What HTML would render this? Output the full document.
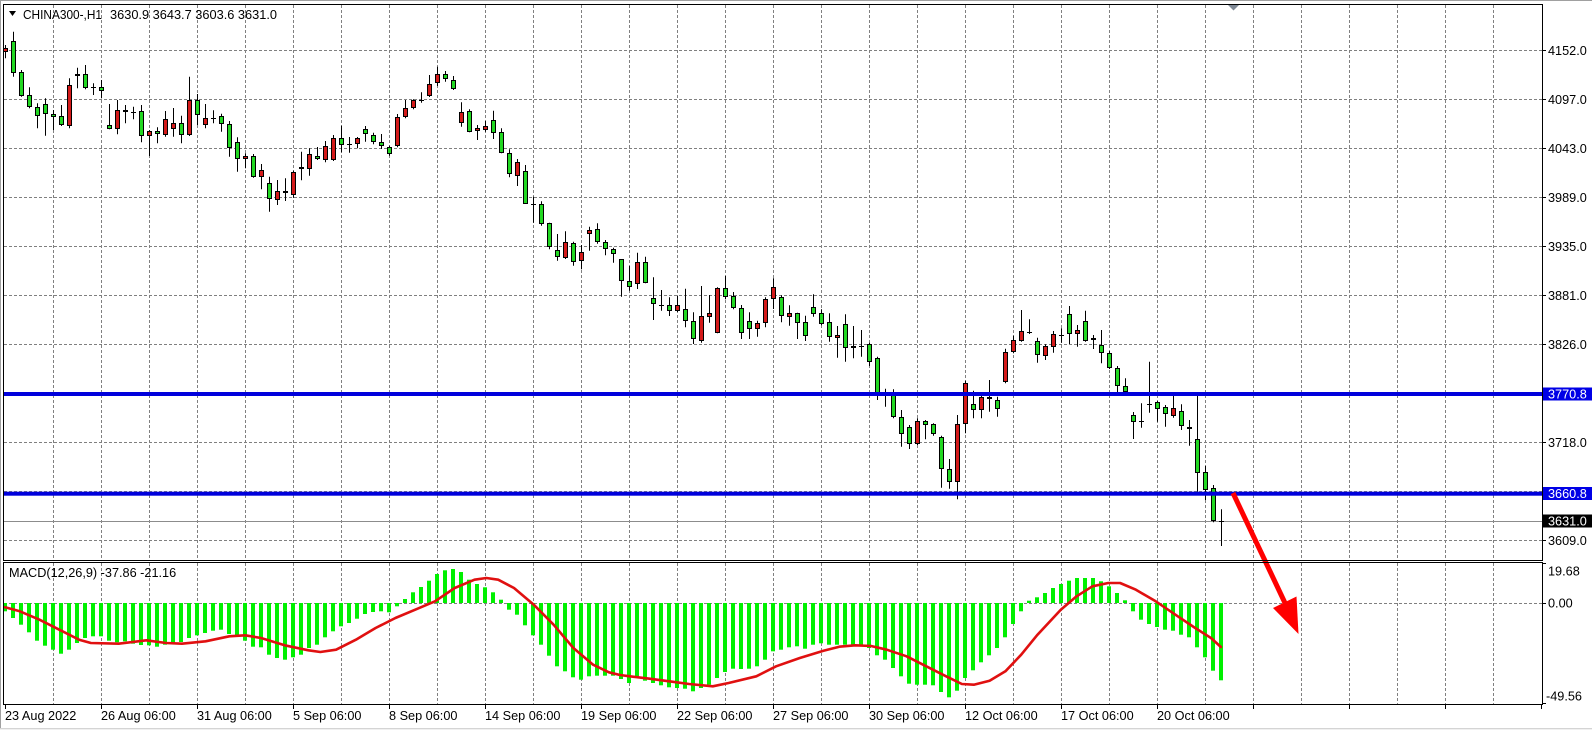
<!DOCTYPE html>
<html>
<head>
<meta charset="utf-8">
<style>
html,body{margin:0;padding:0;background:#fff;}
body{width:1592px;height:730px;overflow:hidden;}
svg{display:block;}
text{font-family:"Liberation Sans",sans-serif;font-size:12.7px;fill:#000;}
</style>
</head>
<body>
<svg width="1592" height="730" viewBox="0 0 1592 730" xmlns="http://www.w3.org/2000/svg">
  <rect x="0" y="0" width="1592" height="730" fill="#fff"/>
  <line x1="0" y1="0.5" x2="1592" y2="0.5" stroke="#a0a0a0"/>
  <line x1="0.5" y1="0" x2="0.5" y2="728" stroke="#a0a0a0"/>
  <rect x="0" y="728" width="1592" height="2" fill="#f0f0f0"/>
  <line x1="0" y1="728.5" x2="1592" y2="728.5" stroke="#d4d4d4"/>

  <g id="grid" stroke="#808080" stroke-width="1" stroke-dasharray="3,2" fill="none"></g>

  <line x1="4" y1="521.5" x2="1542" y2="521.5" stroke="#8c8c8c"/>

  <g id="candles"></g>

  <g id="hist"></g>
  <polyline id="sig" fill="none" stroke="#e01010" stroke-width="2.6" stroke-linejoin="round" stroke-linecap="round"
    points="5.1,607.3 19.8,611.3 39.5,619.7 59.3,629.7 79.1,639.7 90.9,643 118.6,643.7 146.3,640.3 166.1,643 181.9,643.7 205.6,641.3 229.3,636.3 245.2,635.3 261,638 284.7,645.3 308.4,650.3 320.3,652 336.1,649.7 355.9,639.7 375.6,628 395.4,618 415.2,609.7 435,601.3 454.7,588 474.5,579.7 486.4,578 498.2,579.7 514,588 533.8,604.7 553.6,624.7 573.4,648 593.1,664.7 608.9,672.3 620,675 629.8,676.3 649.5,678.7 669.3,681.3 689.1,684 712.8,686.3 728.6,683 756.3,676.3 776.1,666.3 799.8,658 823.5,650.7 839.3,646.7 855.2,645.3 871,646 886.8,649.7 906.6,656.3 926.3,666.3 946.1,676.3 961.9,684 973.8,684.7 989.6,680.7 1005.4,671.3 1021.2,654.7 1037,635.3 1060.8,609.7 1076.6,596.3 1092.4,586.3 1108.2,583 1120.1,583 1135.9,589.7 1155.7,601.3 1175.4,614.7 1195.2,628 1211,638 1220.9,647"/>

  <rect x="4" y="392" width="1538" height="4" fill="#0000dc"/>
  <rect x="4" y="491.7" width="1538" height="4" fill="#0000dc"/>

  <line x1="1233" y1="493" x2="1285" y2="603" stroke="#ff0000" stroke-width="5"/>
  <polygon points="1296.5,596.5 1273,608 1298.5,634" fill="#ff0000"/>

  <polygon points="1227,4 1240,4 1233.5,10.5" fill="#7f8996"/>

  <rect x="3.5" y="4.5" width="1539" height="556" fill="none" stroke="#000"/>
  <rect x="3.5" y="562.5" width="1539" height="142" fill="none" stroke="#000"/>

  <g stroke="#000">
    <line x1="1542" y1="50.5" x2="1546" y2="50.5"/>
    <line x1="1542" y1="99.5" x2="1546" y2="99.5"/>
    <line x1="1542" y1="148.5" x2="1546" y2="148.5"/>
    <line x1="1542" y1="197.5" x2="1546" y2="197.5"/>
    <line x1="1542" y1="246.5" x2="1546" y2="246.5"/>
    <line x1="1542" y1="295.5" x2="1546" y2="295.5"/>
    <line x1="1542" y1="344.5" x2="1546" y2="344.5"/>
    <line x1="1542" y1="442.5" x2="1546" y2="442.5"/>
    <line x1="1542" y1="540.5" x2="1546" y2="540.5"/>
    <line x1="1542" y1="563.5" x2="1546" y2="563.5"/>
    <line x1="1542" y1="603.5" x2="1546" y2="603.5"/>
    <line x1="1542" y1="703.5" x2="1546" y2="703.5"/>
  </g>
  <g id="bticks" stroke="#000"></g>

  <text x="1548" y="55">4152.0</text>
  <text x="1548" y="104">4097.0</text>
  <text x="1548" y="153">4043.0</text>
  <text x="1548" y="202">3989.0</text>
  <text x="1548" y="251">3935.0</text>
  <text x="1548" y="300">3881.0</text>
  <text x="1548" y="349">3826.0</text>
  <text x="1548" y="447">3718.0</text>
  <text x="1548" y="545">3609.0</text>

  <rect x="1543" y="387.5" width="49" height="13" fill="#0000e6"/>
  <text x="1548" y="398.5" style="fill:#fff">3770.8</text>
  <rect x="1543" y="487" width="49" height="13" fill="#0000e6"/>
  <text x="1548" y="498" style="fill:#fff">3660.8</text>
  <rect x="1543" y="514.5" width="49" height="13" fill="#000"/>
  <text x="1548" y="525.5" style="fill:#fff">3631.0</text>

  <text x="1548" y="575.5">19.68</text>
  <text x="1548" y="607.5">0.00</text>
  <text x="1546" y="700.5">-49.56</text>

  <polygon points="9,11 16,11 12.5,16" fill="#000"/>
  <text x="23" y="19" textLength="79" lengthAdjust="spacingAndGlyphs">CHINA300-,H1</text>
  <text x="110" y="19" textLength="167" lengthAdjust="spacingAndGlyphs">3630.9 3643.7 3603.6 3631.0</text>
  <text x="9" y="577">MACD(12,26,9) -37.86 -21.16</text>

  <text x="5" y="720">23 Aug 2022</text>
  <text x="101" y="720">26 Aug 06:00</text>
  <text x="197" y="720">31 Aug 06:00</text>
  <text x="293" y="720">5 Sep 06:00</text>
  <text x="389" y="720">8 Sep 06:00</text>
  <text x="485" y="720">14 Sep 06:00</text>
  <text x="581" y="720">19 Sep 06:00</text>
  <text x="677" y="720">22 Sep 06:00</text>
  <text x="773" y="720">27 Sep 06:00</text>
  <text x="869" y="720">30 Sep 06:00</text>
  <text x="965" y="720">12 Oct 06:00</text>
  <text x="1061" y="720">17 Oct 06:00</text>
  <text x="1157" y="720">20 Oct 06:00</text>
</svg>
<script>
(function(){
var G='#22d822',R='#d41a1a';
var C=[
['r',48.3,52.3,45,58.3],['g',41,73.3,31.7,76.7],['g',72.3,95.7,70,96.7],['g',95.3,107.3,87.3,108.3],['g',107,116.3,103.3,128.3],
['g',104.3,114.3,98.3,135.7],['g',114.3,117.3,110,130],['g',116,125,105,126],['r',85.3,126.3,78.3,128.3],['r',74.3,76.3,67.7,88.3],
['g',74.3,88.3,65,89.3],['d',87.3,87.3,83.3,95],['g',87.3,91,80,98.3],['g',125,129.3,104,129.3],['r',110.3,129.3,100,134.3],
['g',110.3,112.3,105,123.3],['d',112.3,112.3,106.7,119.3],['g',111.3,136.3,105,142.3],['r',131.3,136.3,130,156],['g',131.3,134.3,127.3,143.3],
['r',119.3,135.3,111,136.7],['r',123.3,129.3,108,136.7],['g',123.3,135.3,115.7,143.3],['r',100,135.3,76.7,136],['g',100,115.3,94,125],
['r',118.3,125.3,104,128.3],['d',117.7,117.7,110.3,123.3],['g',116,124.3,113.7,131.7],['g',124,148.3,121,156.7],['g',142,159.3,137.3,171.7],
['r',156,159.3,153.3,168.3],['g',156.3,176.7,154,177.7],['r',170,176.7,164,189.3],['g',183.3,199,176.7,211.7],['r',191,200,180,205],
['g',190.7,193.3,178.3,201],['r',172,195,170.7,197.7],['g',167,169.3,151.7,180.3],['r',154,169.3,148.3,175.7],['g',156,159.3,147,160],
['r',146.3,159.7,141,162.3],['r',138.3,159.7,135,161],['g',138.3,145.3,125.7,152.3],['d',144.3,144.3,137,152.7],['r',138.3,144.3,137,148.3],
['g',129.3,134,126,141.7],['g',135,142.3,132.7,144.3],['g',142.3,146,134,149],['g',146.7,154.3,145.7,155.7],['r',117.3,146,114,147.3],
['r',108.3,117.3,100,118.3],['r',100,108.3,99.3,109.3],['d',100.3,100.3,92.3,102.7],['r',84,96.3,75,97],['r',74.3,83.3,66.7,86],
['g',74.3,79.3,71,81.7],['g',80.3,89.3,76,90],['r',111.7,123.3,102.3,126.7],['g',111,131.7,109.3,132.3],['r',128.3,130.7,125,140],
['r',126.3,129.7,121,131.7],['g',120.3,132.7,110.7,139],['g',132.3,152.7,128.3,153.3],['g',153.3,174.3,149.3,177.3],['r',162.3,175.7,159,186],
['g',171.3,203.7,165,204],['d',203.7,203.7,196.7,222.7],['g',204,224.3,201.3,225.7],['g',223.3,246.7,222.7,249.3],['g',250,257.3,234,260.7],
['r',242.3,258,231.3,259],['g',243,261.7,241.7,265.7],['r',252.3,261.3,245,269.3],['r',230,234.3,226.7,250.7],['g',229.3,241.7,223.3,243.7],
['g',242.3,249.3,240,255.3],['g',249.3,254.3,247.7,262.7],['g',259.3,281.3,259.3,296.7],['g',281,286.7,266,290.7],['r',262.3,284.3,252.7,289],
['g',262.3,282.7,256.7,283.3],['g',298.3,304.3,277.3,320],['d',305.3,305.3,290,310.7],['g',305.3,311.3,297.3,316],['r',305.3,311.3,296,312],
['g',309.3,321.3,288.7,327.3],['g',321.3,339.3,312.3,344],['r',316.3,340.7,286,342.7],['r',313.3,317.3,295,322.7],['r',288.3,332.7,287.3,333.3],
['g',288.3,297.3,276,299.3],['g',296.3,308.3,292,309.3],['g',308,333.3,305,339],['g',321.3,329.3,312.3,339],['r',323.3,329.3,320.7,336.7],
['r',299.3,323.3,297.3,327.3],['r',287.3,299.3,278.3,309],['g',296.7,316,295.3,322.3],['r',313.3,316.7,305.3,325.7],['g',313.3,322.7,312.7,339],
['g',322.3,336,315.7,341],['g',307.3,314,294.3,316.7],['g',313.3,324.3,309.3,325.3],['g',322.3,337.3,313.3,341.7],['r',335,337.7,326,357.7],
['g',324.3,348.3,314.3,361.7],['r',346,348.3,326,358.3],['d',345.7,345.7,330,356.7],['g',344.3,361.7,342.7,366],['g',358.3,393.3,356.7,400],
['d',393.3,393.3,388.7,406.7],['g',394.3,417.3,389.3,418.3],['g',417.3,434.3,410,446.7],['g',427,444.3,425,449],['r',420.7,444.3,418.3,445],
['g',420.7,425,420,439.3],['g',424.3,434.3,423.3,435.7],['g',437.3,469.3,435.7,487.7],['g',469.3,482.3,459,488.7],['r',424.3,482.3,415,499.3],
['r',383.3,424.3,380.7,433.3],['g',404.3,410,390.7,418.3],['r',397.3,410.3,396,418.3],['g',397,399.3,380,411.7],['g',400,409.3,396.7,416.7],
['r',352,382.3,348.7,383.3],['r',340.3,352.3,335.7,353.3],['r',331,340.7,310,341.7],['d',332,332,319.3,334],['g',341,355.3,337.7,362.7],
['r',346.3,355.7,344.3,360],['r',334,347.3,331,352.7],['d',334.7,334.7,328.3,342.7],['g',314,334.3,306,344],['r',330.3,334.3,325,346.7],
['g',321.3,340.7,310.7,341.7],['r',338.3,340.3,335,349],['g',345,353.3,330,363.3],['g',352.7,368.3,351,369],['g',368.3,385.7,366,392.3],
['g',385.7,391.7,378.3,393.3],['g',415.3,421.7,412,439],['d',421.3,421.3,403.3,427.7],['d',404,404,361.7,412.7],['g',402.3,409,401,421.7],
['g',407.3,414.3,405,426.7],['r',408.3,415.7,396,417.7],['g',411.3,426,404.3,430],['g',427,429,420,445.7],['g',439.3,473.3,396,491.7],
['g',472.3,489.7,466,500],['g',487.7,520.7,485,522.3],['d',521,521,509.3,546]
];
var H=[190,210,230,253,278,293,305,317,305,285,270,265,265,278,283,280,287,291,292,296,
290,286,282,270,262,255,248,245,258,262,278,296,298,320,330,335,328,320,300,290,
268,250,235,225,212,198,192,190,193,175,153,133,117,98,78,67,63,72,95,108,
118,133,155,185,200,232,262,290,323,355,370,388,395,385,383,383,383,393,405,385,
398,405,412,418,420,422,430,420,410,390,372,362,363,362,355,335,310,305,298,295,
302,290,286,290,290,290,290,292,300,322,335,360,385,407,410,410,412,432,448,428,
390,367,343,322,300,268,228,190,158,148,135,120,108,98,90,90,90,100,115,135,
157,190,215,228,237,245,248,260,268,298,328,368,397];

var g='';
for(var k=1;k<=31;k++){var x=5.5+48*k;
  g+='<line x1="'+x+'" y1="5" x2="'+x+'" y2="560"/>';
  g+='<line x1="'+x+'" y1="563" x2="'+x+'" y2="704"/>';
}
var hy=[50,99,148,197,246,295,344,393,442,491,540];
for(var j=0;j<hy.length;j++){g+='<line x1="4" y1="'+(hy[j]+.5)+'" x2="1542" y2="'+(hy[j]+.5)+'"/>';}
g+='<line x1="4" y1="603.5" x2="1542" y2="603.5"/>';
document.getElementById('grid').innerHTML=g;

var b='';
for(var k=0;k<=16;k++){var x=5.5+96*k; if(x>1542)break; b+='<line x1="'+x+'" y1="705" x2="'+x+'" y2="709"/>';}
document.getElementById('bticks').innerHTML=b;

var s='';
for(var i=0;i<C.length;i++){var c=C[i],x=5+8*i;
  s+='<line x1="'+(x+.5)+'" y1="'+c[3]+'" x2="'+(x+.5)+'" y2="'+c[4]+'" stroke="#000"/>';
  if(c[0]=='d'){var yy=Math.round(c[1])+.5;
    s+='<line x1="'+(x-2)+'" y1="'+yy+'" x2="'+(x+3)+'" y2="'+yy+'" stroke="#000"/>';
  } else {
    var t=Math.round(c[1]),bb=Math.round(c[2]); if(bb-t<2)bb=t+2;
    s+='<rect x="'+(x-1.5)+'" y="'+(t+.5)+'" width="4" height="'+(bb-t-1)+'" fill="'+(c[0]=='g'?G:R)+'" stroke="#000"/>';
  }
}
document.getElementById('candles').innerHTML=s;

var h='';
for(var i=0;i<H.length;i++){var x=5+8*i,yb=548+H[i]/3,y0=603,top=Math.min(y0,yb),ht=Math.abs(yb-y0);
  if(ht<1)ht=1;
  h+='<rect x="'+(x-2)+'" y="'+top.toFixed(1)+'" width="4" height="'+ht.toFixed(1)+'" fill="#00f000"/>';
}
document.getElementById('hist').innerHTML=h;
})();
</script>
</body>
</html>
